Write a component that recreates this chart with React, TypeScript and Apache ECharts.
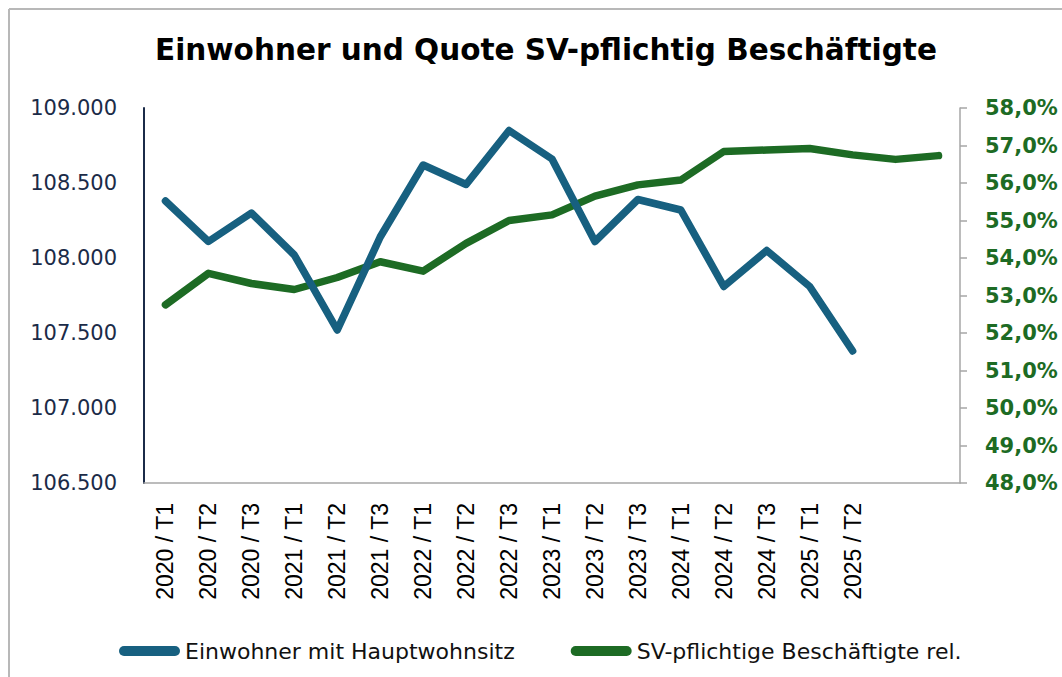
import React, { useEffect, useRef } from "react";
import * as echarts from "echarts";

const categories = [
  "2020 / T1", "2020 / T2", "2020 / T3",
  "2021 / T1", "2021 / T2", "2021 / T3",
  "2022 / T1", "2022 / T2", "2022 / T3",
  "2023 / T1", "2023 / T2", "2023 / T3",
  "2024 / T1", "2024 / T2", "2024 / T3",
  "2025 / T1", "2025 / T2", "", "",
];

const einwohner = [
  108380, 108110, 108300, 108020, 107520, 108140, 108620, 108490, 108850,
  108660, 108110, 108390, 108320, 107810, 108050, 107810, 107380,
];

const quote = [
  52.75, 53.59, 53.32, 53.16, 53.48, 53.9, 53.65, 54.39, 55.0, 55.15, 55.65,
  55.95, 56.08, 56.84, 56.88, 56.92, 56.75, 56.63, 56.73,
];

const seriesNames = ["Einwohner mit Hauptwohnsitz", "SV-pflichtige Beschäftigte rel."];
const titleText = "Einwohner und Quote SV-pflichtig Beschäftigte";

const BLUE = "#176080";
const GREEN = "#1d6b24";
const NAVY = "#1b2b48";
const GRAY = "#a6a6a6";

const pill = "path://M5,0 L56,0 A5,5 0 0 1 56,10 L5,10 A5,5 0 0 1 5,0 Z";

export default function App() {
  const ref = useRef<HTMLDivElement>(null);
  useEffect(() => {
    if (!ref.current) return;
    const chart = echarts.init(ref.current, null, { renderer: "svg" });
    chart.setOption({
      animation: false,
      backgroundColor: "#ffffff",
      title: {
        text: titleText,
        left: 541,
        top: 30,
        textAlign: "center",
        textStyle: {
          fontFamily: "DejaVu Sans",
          fontWeight: "bold",
          fontSize: 29.5,
          color: "#000000",
        },
      },
      graphic: [
        { type: "line", shape: { x1: 9, y1: 9, x2: 1062, y2: 9 }, style: { stroke: "#b8b8b8", lineWidth: 2 } },
        { type: "line", shape: { x1: 9, y1: 9, x2: 9, y2: 677 }, style: { stroke: "#b8b8b8", lineWidth: 2 } },
      ],
      legend: {
        data: seriesNames,
        left: 114,
        top: 635,
        itemWidth: 61,
        itemHeight: 10,
        itemGap: 56,
        icon: pill,
        textStyle: {
          fontFamily: "DejaVu Sans",
          fontSize: 22,
          color: "#111111",
          lineHeight: 22,
        },
      },
      grid: { left: 144, right: 102, top: 108, bottom: 194, containLabel: false },
      xAxis: {
        type: "category",
        data: categories,
        boundaryGap: true,
        axisLine: { show: true, lineStyle: { color: GRAY, width: 1.5 } },
        axisTick: { show: false },
        axisLabel: {
          interval: 0,
          rotate: 90,
          margin: 20,
          fontFamily: "Liberation Sans",
          fontSize: 23,
          color: "#000000",
        },
        splitLine: { show: false },
      },
      yAxis: [
        {
          type: "value",
          min: 106500,
          max: 109000,
          interval: 500,
          position: "left",
          axisLine: { show: true, lineStyle: { color: NAVY, width: 2 } },
          axisTick: { show: false },
          splitLine: { show: false },
          axisLabel: {
            margin: 27,
            fontFamily: "DejaVu Sans",
            fontSize: 21,
            color: NAVY,
            formatter: (v: number) => {
              const s = Math.round(v).toString();
              return s.slice(0, s.length - 3) + "." + s.slice(s.length - 3);
            },
          },
        },
        {
          type: "value",
          min: 48,
          max: 58,
          interval: 1,
          position: "right",
          axisLine: { show: true, lineStyle: { color: GRAY, width: 1.5 } },
          axisTick: { show: true, length: 7, inside: false, lineStyle: { color: GRAY, width: 1.5 } },
          splitLine: { show: false },
          axisLabel: {
            margin: 25,
            fontFamily: "DejaVu Sans",
            fontWeight: "bold",
            fontSize: 21,
            color: GREEN,
            formatter: (v: number) => v.toFixed(1).replace(".", ",") + "%",
          },
        },
      ],
      series: [
        {
          name: seriesNames[0],
          type: "line",
          yAxisIndex: 0,
          data: einwohner,
          z: 3,
          showSymbol: false,
          symbol: "none",
          color: BLUE,
          lineStyle: { color: BLUE, width: 7.5, cap: "round", join: "round" },
        },
        {
          name: seriesNames[1],
          type: "line",
          yAxisIndex: 1,
          data: quote,
          z: 2,
          showSymbol: false,
          symbol: "none",
          color: GREEN,
          lineStyle: { color: GREEN, width: 7.5, cap: "round", join: "round" },
        },
      ],
    });
    return () => chart.dispose();
  }, []);
  return (
    <div
      ref={ref}
      style={{ position: "fixed", left: 0, top: 0, width: 1062, height: 677 }}
    />
  );
}
